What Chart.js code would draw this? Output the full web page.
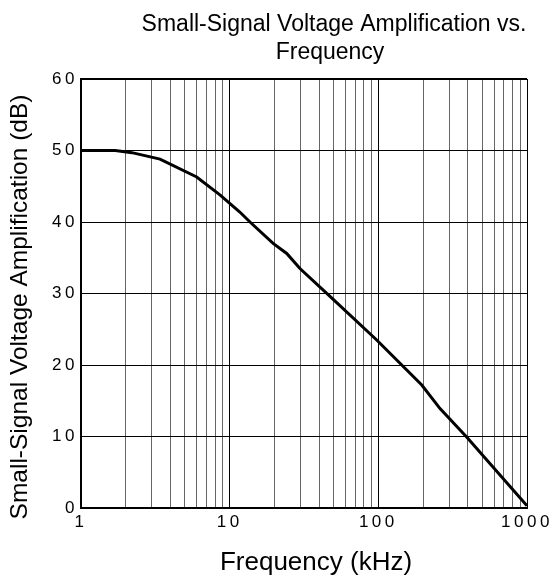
<!DOCTYPE html>
<html>
<head>
<meta charset="utf-8">
<script src="https://cdn.jsdelivr.net/npm/chart.js@4/dist/chart.umd.min.js"></script>
<style>
  html, body { margin: 0; padding: 0; background: #fff; }
  #wrap { width: 552px; height: 582px; }
</style>
</head>
<body>
<div id="wrap"><canvas id="ampChart"></canvas></div>
<script>
// values
var freqKHz = [1, 1.7, 2.2, 3.4, 6, 8.6, 11.7, 13.7, 19.6, 24.2, 29.7, 47.3, 97.5, 196, 260, 394, 1000];
var gainDb  = [50, 50, 49.7, 48.8, 46.3, 43.8, 41.4, 40.0, 37.0, 35.6, 33.5, 29.6, 23.5, 17.2, 13.9, 9.9, 0.3];

var xTicks = [1,2,3,4,5,6,7,8,9,10,20,30,40,50,60,70,80,90,100,200,300,400,500,600,700,800,900,1000];
var xLabels = [1, 10, 100, 1000];
var yTicks = [0, 10, 20, 30, 40, 50, 60];

var titleLines = ["Small-Signal Voltage Amplification vs.", "Frequency"];
var xTitle = "Frequency (kHz)";
var yTitle = "Small-Signal Voltage Amplification (dB)";

var points = [];
for (var i = 0; i < freqKHz.length; i++) points.push({x: freqKHz[i], y: gainDb[i]});

var FONT = "'Liberation Sans', Arial, sans-serif";

// titles drawn by hand so they can sit off-centre like the original
var textPlugin = {
  id: 'textPlugin',
  beforeDraw: function(chart) {
    chart.ctx.letterSpacing = '3.5px';
  },
  afterDraw: function(chart) {
    var ctx = chart.ctx;
    ctx.save();
    ctx.letterSpacing = '0px';
    ctx.fillStyle = '#000';
    ctx.textAlign = 'center';
    ctx.textBaseline = 'middle';
    ctx.font = '23px ' + FONT;
    ctx.fillText(titleLines[0], 334, 25);
    ctx.fillText(titleLines[1], 330, 53);
    ctx.font = '26px ' + FONT;
    ctx.fillText(xTitle, 316, 563);
    ctx.font = '24.5px ' + FONT;
    ctx.translate(20, 307);
    ctx.rotate(-Math.PI / 2);
    ctx.fillText(yTitle, 0, 0);
    ctx.restore();
  }
};

var canvasAmp = document.getElementById("ampChart");
var ampChart = new Chart(canvasAmp, {
  type: 'line',
  data: {
    datasets: [{
      data: points,
      borderColor: '#000',
      borderWidth: 3,
      pointRadius: 0,
      tension: 0,
      fill: false
    }]
  },
  options: {
    responsive: true,
    maintainAspectRatio: false,
    animation: false,
    layout: { padding: { top: 79, right: 25, left: 0, bottom: 0 } },
    plugins: { legend: { display: false }, tooltip: { enabled: false } },
    scales: {
      x: {
        type: 'logarithmic',
        min: 1,
        max: 1000,
        afterBuildTicks: function(scale) {
          scale.ticks = xTicks.map(function(v) { return {value: v}; });
        },
        afterFit: function(scale) { scale.height = 74; },
        ticks: {
          autoSkip: false,
          maxRotation: 0,
          padding: 4,
          color: '#000',
          font: { family: FONT, size: 17 },
          callback: function(v) { return xLabels.indexOf(v) >= 0 ? String(v) : ''; }
        },
        grid: {
          drawTicks: false,
          color: function(c) { return (c.tick && xLabels.indexOf(c.tick.value) >= 0) ? '#000' : '#666'; },
          lineWidth: 1
        },
        border: { color: '#000', width: 2 }
      },
      y: {
        min: 0,
        max: 60,
        afterBuildTicks: function(scale) {
          scale.ticks = yTicks.map(function(v) { return {value: v}; });
        },
        afterFit: function(scale) { scale.width = 81; },
        ticks: {
          padding: 3,
          color: '#000',
          font: { family: FONT, size: 17 }
        },
        grid: {
          drawTicks: false,
          color: '#000',
          lineWidth: function(c) { return (c.tick && c.tick.value === 60) ? 2 : 1; }
        },
        border: { color: '#000', width: 2 }
      }
    }
  },
  plugins: [textPlugin]
});
</script>
</body>
</html>
